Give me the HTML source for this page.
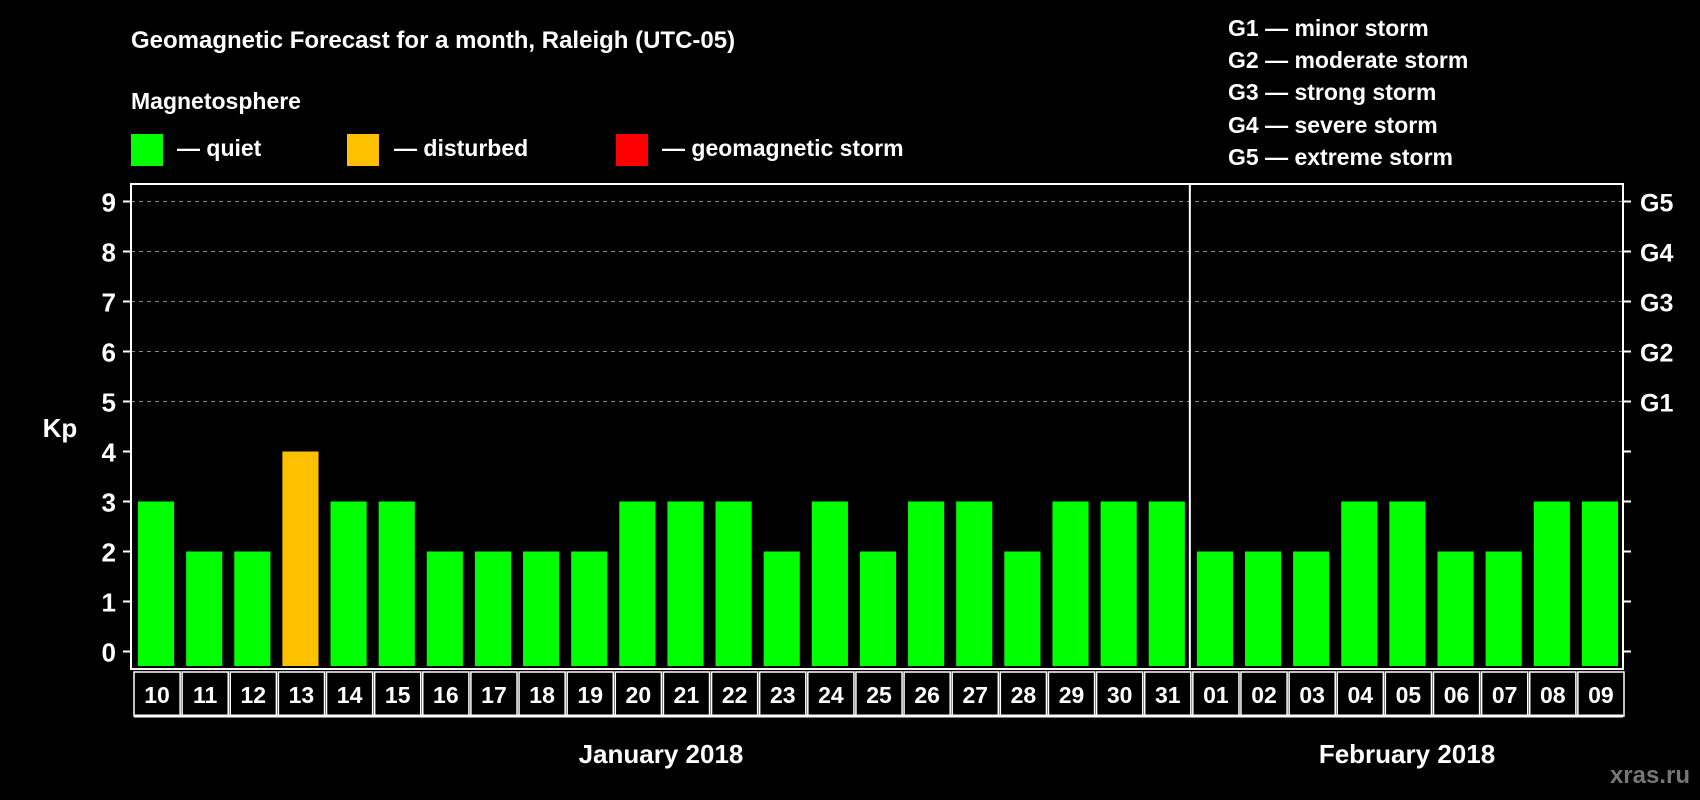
<!DOCTYPE html>
<html><head><meta charset="utf-8"><style>
html,body{margin:0;padding:0;background:#000;}
svg{display:block;font-family:"Liberation Sans",Arial,sans-serif;font-weight:bold;}
</style></head><body>
<svg id="chart" width="1700" height="800" viewBox="0 0 1700 800" xmlns="http://www.w3.org/2000/svg">
<rect width="1700" height="800" fill="#000"/>
<text x="131" y="48" fill="#fff" font-size="24">Geomagnetic Forecast for a month, Raleigh (UTC-05)</text>
<text x="131" y="109" fill="#fff" font-size="23">Magnetosphere</text>
<rect x="131" y="134" width="32" height="32" fill="#00ff00"/>
<text x="177" y="156" fill="#fff" font-size="23">— quiet</text>
<rect x="347" y="134" width="32" height="32" fill="#ffc000"/>
<text x="394" y="156" fill="#fff" font-size="23">— disturbed</text>
<rect x="616" y="134" width="32" height="32" fill="#ff0000"/>
<text x="662" y="156" fill="#fff" font-size="23">— geomagnetic storm</text>
<g fill="#fff" font-size="23">
<text x="1228" y="36">G1 — minor storm</text>
<text x="1228" y="68">G2 — moderate storm</text>
<text x="1228" y="100">G3 — strong storm</text>
<text x="1228" y="133">G4 — severe storm</text>
<text x="1228" y="165">G5 — extreme storm</text>
</g>
<text x="60" y="437" fill="#fff" font-size="26" text-anchor="middle">Kp</text>
<g id="grid"></g>
<g id="bars"></g>
<g id="axes"></g>
<text x="661" y="763" fill="#fff" font-size="26" text-anchor="middle">January 2018</text>
<text x="1407" y="763" fill="#fff" font-size="26" text-anchor="middle">February 2018</text>
<text x="1690" y="783" fill="#777" font-size="24" text-anchor="end">xras.ru</text>
</svg>
<script>
const days = ["10","11","12","13","14","15","16","17","18","19","20","21","22","23","24","25","26","27","28","29","30","31","01","02","03","04","05","06","07","08","09"];
const kp = [3,2,2,4,3,3,2,2,2,2,3,3,3,2,3,2,3,3,2,3,3,3,2,2,2,3,3,2,2,3,3];
const yTicks = [0,1,2,3,4,5,6,7,8,9];
const gLabels = ["G1","G2","G3","G4","G5"];
const NS="http://www.w3.org/2000/svg";
const L=131,R=1623,TOP=184,BOT=669;
const y=v=>651.5-v*50;
const bw=(R-L)/days.length;
const x=i=>L+i*bw;
function mk(t,a,p){const e=document.createElementNS(NS,t);for(const k in a)e.setAttribute(k,a[k]);p.appendChild(e);return e;}
const grid=document.getElementById('grid'),bars=document.getElementById('bars'),axes=document.getElementById('axes');
yTicks.forEach(v=>{
 if(v>=5){const g=mk('line',{x1:L,x2:R,y1:y(v),y2:y(v),stroke:'#888','stroke-dasharray':'4,4','stroke-width':1},grid);
 
 }
 mk('line',{x1:L-8,x2:L,y1:y(v),y2:y(v),stroke:'#fff','stroke-width':2},axes);
 mk('line',{x1:R,x2:R+8,y1:y(v),y2:y(v),stroke:'#fff','stroke-width':2},axes);
 const t=mk('text',{x:116,y:y(v)+10,fill:'#fff','font-size':26,'text-anchor':'end'},axes);t.textContent=v;
 
 
 if(v>=5){const g=mk('text',{x:1640,y:y(v)+10,fill:'#fff','font-size':25},axes);g.textContent=gLabels[v-5];
 
 }
});
kp.forEach((v,i)=>{
 const c=v>=5?'#ff0000':(v>=4?'#ffc000':'#00ff00');
 const b=mk('rect',{x:x(i)+7,y:y(v),width:bw-12,height:BOT-3-y(v),fill:c},bars);
 
 
 const cell=mk('rect',{x:x(i)+3,y:BOT+3,width:bw-2,height:44,fill:'none',stroke:'#fff','stroke-width':1.5},axes);
 
 
 const t=mk('text',{x:x(i)+bw/2+2,y:BOT+34,fill:'#fff','font-size':23,'text-anchor':'middle'},axes);t.textContent=days[i];
 
 
});
mk('rect',{x:L,y:TOP,width:R-L,height:BOT-TOP,fill:'none',stroke:'#fff','stroke-width':2},axes);
mk('line',{x1:x(22),x2:x(22),y1:TOP,y2:BOT,stroke:'#fff','stroke-width':2},axes);
mk('line',{x1:L+3,x2:R,y1:BOT+47,y2:BOT+47,stroke:'#fff','stroke-width':3},axes);
</script>
</body></html>
